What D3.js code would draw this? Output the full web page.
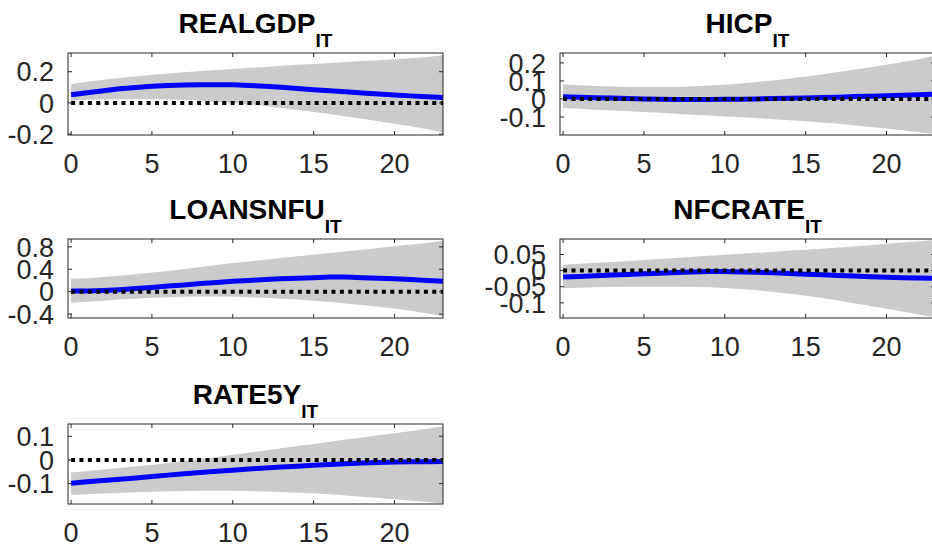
<!DOCTYPE html>
<html><head><meta charset="utf-8">
<script src="https://cdn.jsdelivr.net/npm/d3@7"></script>
<style>
html,body{margin:0;padding:0;background:#fff;}
svg{display:block;font-family:"Liberation Sans",Arial,Helvetica,sans-serif;}
</style></head>
<body><svg id="chart" width="932" height="552"></svg>
<script>
// ---------------- DATA ----------------
const horizons = [0,1,2,3,4,5,6,7,8,9,10,11,12,13,14,15,16,17,18,19,20,21,22,23];
const xTicks = [0,5,10,15,20];
const titles = ["REALGDP","HICP","LOANSNFU","NFCRATE","RATE5Y"];
const subscript = "IT";

const realgdpMed = [0.052,0.065,0.078,0.090,0.099,0.106,0.112,0.115,0.117,0.117,0.116,0.112,0.107,0.100,0.093,0.085,0.078,0.071,0.064,0.057,0.051,0.045,0.040,0.035];
const realgdpLo  = [0.015,0.020,0.022,0.024,0.025,0.024,0.022,0.018,0.013,0.007,0.000,-0.010,-0.020,-0.032,-0.045,-0.058,-0.072,-0.087,-0.102,-0.118,-0.134,-0.150,-0.167,-0.190];
const realgdpHi  = [0.120,0.135,0.148,0.160,0.170,0.180,0.188,0.196,0.204,0.211,0.218,0.225,0.231,0.238,0.244,0.250,0.256,0.262,0.268,0.274,0.280,0.287,0.294,0.305];

const hicpMed = [0.012,0.010,0.007,0.005,0.002,0.000,-0.002,-0.003,-0.003,-0.003,-0.002,-0.001,0.000,0.002,0.004,0.006,0.008,0.010,0.013,0.015,0.018,0.020,0.023,0.026];
const hicpLo  = [-0.050,-0.055,-0.060,-0.064,-0.068,-0.072,-0.077,-0.082,-0.087,-0.092,-0.097,-0.102,-0.107,-0.112,-0.118,-0.124,-0.131,-0.138,-0.146,-0.155,-0.164,-0.174,-0.184,-0.195];
const hicpHi  = [0.080,0.076,0.072,0.069,0.067,0.066,0.066,0.067,0.070,0.074,0.079,0.086,0.094,0.103,0.113,0.124,0.136,0.149,0.162,0.176,0.190,0.205,0.220,0.240];

const loansMed = [0.010,0.010,0.020,0.035,0.055,0.075,0.100,0.120,0.145,0.165,0.185,0.200,0.215,0.230,0.240,0.250,0.260,0.260,0.250,0.240,0.230,0.215,0.200,0.185];
const loansLo  = [-0.200,-0.180,-0.160,-0.140,-0.125,-0.110,-0.100,-0.090,-0.085,-0.085,-0.090,-0.100,-0.110,-0.125,-0.140,-0.160,-0.185,-0.210,-0.240,-0.270,-0.300,-0.340,-0.385,-0.440];
const loansHi  = [0.230,0.240,0.260,0.285,0.310,0.340,0.370,0.405,0.440,0.475,0.510,0.540,0.570,0.600,0.630,0.660,0.690,0.720,0.750,0.780,0.810,0.840,0.870,0.910];

const nfcMed = [-0.020,-0.018,-0.016,-0.014,-0.012,-0.010,-0.008,-0.006,-0.004,-0.003,-0.003,-0.004,-0.005,-0.007,-0.009,-0.011,-0.013,-0.015,-0.017,-0.019,-0.021,-0.022,-0.023,-0.024];
const nfcLo  = [-0.055,-0.053,-0.052,-0.051,-0.050,-0.050,-0.050,-0.050,-0.051,-0.052,-0.054,-0.057,-0.061,-0.066,-0.072,-0.078,-0.085,-0.093,-0.101,-0.110,-0.118,-0.127,-0.136,-0.145];
const nfcHi  = [0.018,0.021,0.024,0.027,0.030,0.033,0.036,0.039,0.043,0.046,0.049,0.052,0.055,0.058,0.062,0.065,0.068,0.072,0.075,0.079,0.083,0.087,0.091,0.095];

const rate5yMed = [-0.098,-0.092,-0.087,-0.081,-0.076,-0.070,-0.064,-0.058,-0.053,-0.048,-0.043,-0.038,-0.034,-0.030,-0.026,-0.022,-0.019,-0.016,-0.013,-0.011,-0.009,-0.008,-0.007,-0.006];
const rate5yLo  = [-0.148,-0.145,-0.142,-0.139,-0.136,-0.134,-0.132,-0.131,-0.130,-0.130,-0.130,-0.131,-0.133,-0.135,-0.138,-0.141,-0.145,-0.150,-0.155,-0.161,-0.166,-0.172,-0.178,-0.184];
const rate5yHi  = [-0.053,-0.047,-0.040,-0.034,-0.027,-0.021,-0.013,-0.004,0.004,0.013,0.022,0.031,0.040,0.050,0.059,0.068,0.077,0.086,0.095,0.104,0.113,0.122,0.132,0.143];

const yTickValues = [
  [-0.2,0,0.2],
  [-0.1,0,0.1,0.2],
  [-0.4,0,0.4,0.8],
  [-0.1,-0.05,0,0.05],
  [-0.1,0,0.1]
];
const yTickLabels = [
  ["-0.2","0","0.2"],
  ["-0.1","0","0.1","0.2"],
  ["-0.4","0","0.4","0.8"],
  ["-0.1","-0.05","0","0.05"],
  ["-0.1","0","0.1"]
];
const yLimits = [[-0.206,0.32],[-0.2,0.255],[-0.47,0.94],[-0.147,0.098],[-0.186,0.152]];
const medians = [realgdpMed,hicpMed,loansMed,nfcMed,rate5yMed];
const lowers  = [realgdpLo,hicpLo,loansLo,nfcLo,rate5yLo];
const uppers  = [realgdpHi,hicpHi,loansHi,nfcHi,rate5yHi];

// ---------------- LAYOUT ----------------
const colX = [[68,443],[560,935]];
const rowY = [[53,135],[239,318],[424,504]];

const svg = d3.select("#chart");

titles.forEach((t,i)=>{
  const col = i%2, row = Math.floor(i/2);
  const [x0,x1] = colX[col], [y0,y1] = rowY[row];
  const x = d3.scaleLinear().domain([-0.19,23]).range([x0,x1]);
  const y = d3.scaleLinear().domain(yLimits[i]).range([y1,y0]);
  const g = svg.append("g");
  const clipId = "clip"+i;
  svg.append("clipPath").attr("id",clipId).append("rect")
    .attr("x",x0).attr("y",y0).attr("width",x1-x0).attr("height",y1-y0);
  const pg = g.append("g").attr("clip-path",`url(#${clipId})`);

  const area = d3.area().x((d,k)=>x(horizons[k])).y0((d,k)=>y(lowers[i][k])).y1((d,k)=>y(uppers[i][k]));
  pg.append("path").datum(horizons).attr("d",area).attr("fill","#cbcbcb");

  const line = d3.line().x((d,k)=>x(horizons[k])).y((d,k)=>y(medians[i][k]));
  pg.append("path").datum(horizons).attr("d",line).attr("fill","none")
    .attr("stroke","#0000ff").attr("stroke-width",5);

  pg.append("path").datum([0,23]).attr("d",d3.line().x(d=>x(d)).y(()=>y(0)))
    .attr("stroke","#000").attr("stroke-width",4).attr("stroke-dasharray","4,4.4").attr("fill","none");

  // axes
  const tickLen = 4;
  const ax = g.append("g").attr("stroke","#262626").attr("stroke-width",1);
  ax.append("rect").attr("x",x0).attr("y",y0).attr("width",x1-x0).attr("height",y1-y0)
    .attr("fill","none");
  xTicks.forEach(v=>{
    ax.append("line").attr("x1",x(v)).attr("x2",x(v)).attr("y1",y1).attr("y2",y1-tickLen);
    ax.append("line").attr("x1",x(v)).attr("x2",x(v)).attr("y1",y0).attr("y2",y0+tickLen);
  });
  yTickValues[i].forEach(v=>{
    ax.append("line").attr("x1",x0).attr("x2",x0+tickLen).attr("y1",y(v)).attr("y2",y(v));
    ax.append("line").attr("x1",x1).attr("x2",x1-tickLen).attr("y1",y(v)).attr("y2",y(v));
  });

  // tick labels
  g.append("g").selectAll("text").data(xTicks).join("text")
    .attr("x",d=>x(d)).attr("y",y1+38).attr("text-anchor","middle")
    .attr("font-size",27).attr("fill","#262626").text(d=>d);
  g.append("g").selectAll("text").data(yTickValues[i]).join("text")
    .attr("x",x0-14).attr("y",d=>y(d)).attr("dy","0.36em").attr("text-anchor","end")
    .attr("font-size",27).attr("fill","#262626").text((d,k)=>yTickLabels[i][k]);

  // title
  const tt = g.append("text").attr("x",(x0+x1)/2).attr("y",y0-20).attr("text-anchor","middle")
    .attr("font-weight","bold").attr("fill","#000").attr("font-size",28);
  tt.append("tspan").text(t);
  tt.append("tspan").attr("font-size",19).attr("dy",14).text(subscript);
});
</script></body></html>
